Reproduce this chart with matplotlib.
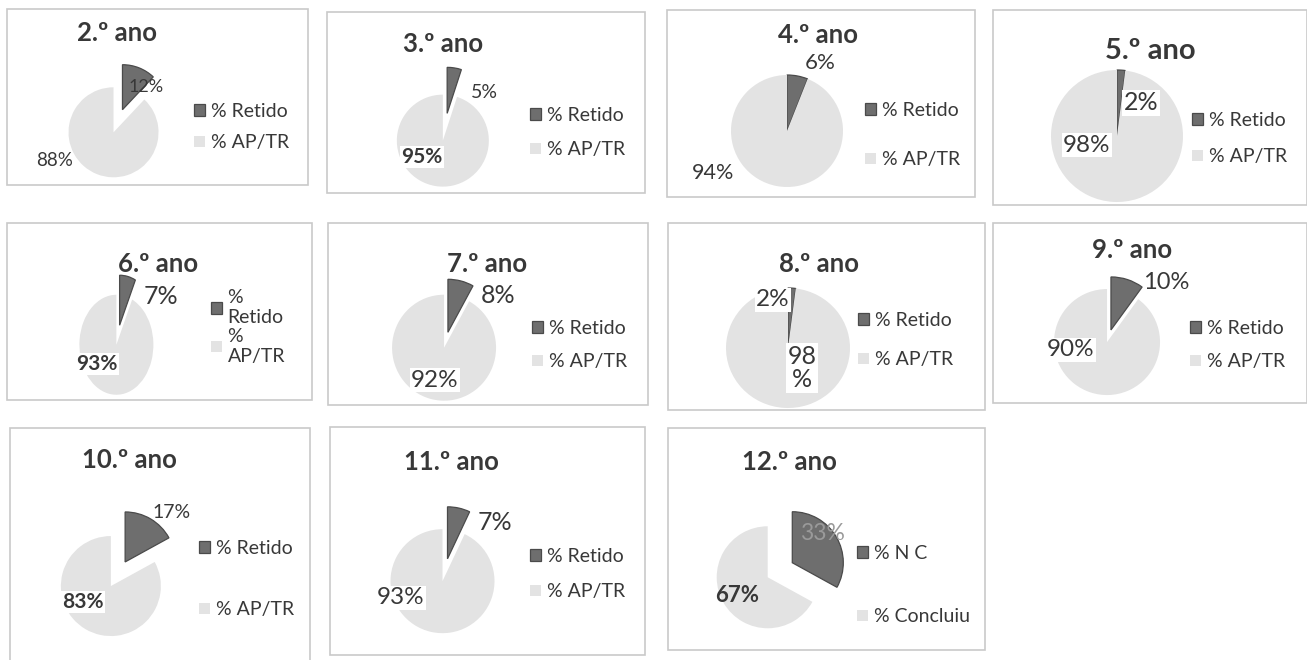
import matplotlib
matplotlib.use('Agg')
import matplotlib.pyplot as plt
from matplotlib.patches import Rectangle

plt.rcParams['font.family'] = ['Lato', 'DejaVu Sans']

# data
titles = ['2.º ano', '3.º ano', '4.º ano', '5.º ano', '6.º ano', '7.º ano',
          '8.º ano', '9.º ano', '10.º ano', '11.º ano', '12.º ano']
retido = [12, 5, 6, 2, 7, 8, 2, 10, 17, 7, 33]
aprovado = [88, 95, 94, 98, 93, 92, 98, 90, 83, 93, 67]
legend_std = ['% Retido', '% AP/TR']
legend_6 = ['%\nRetido', '%\nAP/TR']
legend_12 = ['% N C', '% Concluiu']
legends = [legend_std] * 4 + [legend_6] + [legend_std] * 5 + [legend_12]

W, H = 1307, 660
DARK = '#6e6e6e'
LIGHT = '#e3e3e3'
TXT = '#383838'

# layout, in pixels of the reference (y down)
# box, title (x, y, size), pie centre, rx, ry, explode,
# labels (x, y, bold, white bg, size), legend (x, y1, y2)
layout = [
    dict(box=(7, 9, 308, 185), title=(117, 33, 18.5), c=(118, 121), rx=45, ry=45, ex=0.27,
         l1=(146, 87, False, False, 13), l2=(55, 160, False, False, 13.5), leg=(194, 108, 146)),
    dict(box=(327, 12, 645, 193), title=(443, 44, 18.5), c=(445, 127), rx=46, ry=46, ex=0.3,
         l1=(484, 92, False, False, 14), l2=(422, 157, True, True, 15), leg=(530, 112, 153)),
    dict(box=(667, 10, 975, 197), title=(818, 35, 18.5), c=(787, 131), rx=56, ry=56, ex=0.0,
         l1=(820, 63, False, False, 16), l2=(713, 173, False, False, 15.5), leg=(865, 107, 163)),
    dict(box=(993, 10, 1307, 205), title=(1150, 51, 21), c=(1117, 136), rx=66, ry=66, ex=0.0,
         l1=(1141, 103, False, True, 18), l2=(1087, 145, False, True, 17.5), leg=(1192, 117, 160)),
    dict(box=(7, 223, 312, 400), title=(158, 264, 18.5), c=(118, 335), rx=37, ry=50, ex=0.2,
         l1=(161, 297, False, False, 18), l2=(97, 364, True, True, 15), leg=(211, 303, 351)),
    dict(box=(328, 223, 648, 405), title=(487, 264, 18.5), c=(446, 340), rx=52, ry=53, ex=0.15,
         l1=(498, 295, False, False, 18), l2=(435, 380, False, True, 17.5), leg=(532, 325, 365)),
    dict(box=(668, 223, 985, 410), title=(819, 264, 18.5), c=(788, 348), rx=62, ry=60, ex=0.0,
         l1=(773, 300, False, True, 17.5), l2=(802, 368, False, True, 18), leg=(858, 317, 363)),
    dict(box=(993, 223, 1307, 403), title=(1132, 250, 18.5), c=(1109, 336), rx=53, ry=53, ex=0.12,
         l1=(1166, 283, False, False, 17), l2=(1071, 350, False, True, 17.5), leg=(1190, 325, 365)),
    dict(box=(10, 428, 310, 665), title=(129, 460, 18.5), c=(118, 574), rx=50, ry=50, ex=0.28,
         l1=(172, 512, False, False, 14), l2=(83, 602, True, True, 15), leg=(199, 545, 613)),
    dict(box=(330, 427, 645, 655), title=(451, 462, 18.5), c=(445, 570), rx=52, ry=52, ex=0.22,
         l1=(495, 523, False, False, 18), l2=(401, 598, False, True, 17.5), leg=(530, 553, 595)),
    dict(box=(668, 428, 985, 650), title=(789, 462, 18.5), c=(780, 570), rx=51, ry=51, ex=0.28,
         l1=(822, 533, False, False, 16.5), l2=(737, 595, True, False, 16), leg=(857, 550, 620)),
]


def fx(x):
    return x / W


def fy(y):
    return 1 - y / H


fig = plt.figure(figsize=(W / 100, H / 100), dpi=100)
fig.patch.set_facecolor('white')

for i, lay in enumerate(layout):
    # panel frame
    x0, y0, x1, y1 = lay['box']
    fig.patches.append(Rectangle((fx(x0), fy(y1)), fx(x1) - fx(x0), fy(y0) - fy(y1),
                                 transform=fig.transFigure, fill=False,
                                 edgecolor='#c9c9c9', linewidth=1.2))

    # pie axes
    cx, cy = lay['c']
    rx, ry = lay['rx'], lay['ry']
    L = 1.5
    ax = fig.add_axes([fx(cx - L * rx), fy(cy + L * ry), 2 * L * rx / W, 2 * L * ry / H])
    e = lay['ex']
    wedges, _ = ax.pie([retido[i], aprovado[i]], colors=[DARK, LIGHT], startangle=90,
                       counterclock=False, explode=[e, e], radius=1,
                       wedgeprops=dict(linewidth=0))
    wedges[0].set_edgecolor('#4a4a4a')
    wedges[0].set_linewidth(0.9)
    ax.set_aspect('auto')
    ax.set_xlim(-L, L)
    ax.set_ylim(-L, L)
    ax.axis('off')

    # title
    tx, ty, ts = lay['title']
    fig.text(fx(tx), fy(ty), titles[i], ha='center', va='center', fontsize=ts,
             fontweight='bold', color=TXT)

    # value labels
    vals = [retido[i], aprovado[i]]
    for key, v in zip(['l1', 'l2'], vals):
        lx, ly, bold, bg, fs = lay[key]
        s = f'{v}%'
        if i == 6 and key == 'l2':
            s = f'{v}\n%'
        bbox = dict(facecolor='white', edgecolor='none', pad=1) if bg else None
        col = '#9a9a9a' if i == 10 and key == 'l1' else TXT
        fig.text(fx(lx), fy(ly), s, ha='center', va='center', fontsize=fs,
                 fontweight='bold' if bold else 'normal', color=col, bbox=bbox,
                 linespacing=1.05)

    # legend
    gx, g1, g2 = lay['leg']
    fs = 14
    fs_px = fs * 100 / 72
    nlines = legends[i][0].count('\n') + 1
    spacing = max((g2 - g1) - fs_px * 1.2 * nlines, 0) / fs_px
    leg = ax.legend(wedges, legends[i], loc='center left',
                    bbox_to_anchor=(fx(gx), fy((g1 + g2) / 2)),
                    bbox_transform=fig.transFigure, frameon=False, fontsize=fs,
                    handlelength=0.55, handleheight=0.55, handletextpad=0.3,
                    labelspacing=spacing, borderpad=0, borderaxespad=0)
    for t in leg.get_texts():
        t.set_color(TXT)
        if nlines > 1:
            t.set_linespacing(1.25)

fig.savefig('out.png', dpi=100)
